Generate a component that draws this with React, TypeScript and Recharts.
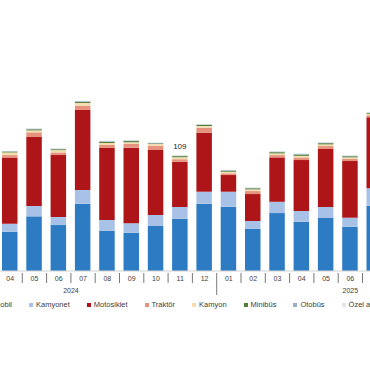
import React from "react";
import { BarChart, Bar, XAxis, YAxis, LabelList } from "recharts";

const months = ["04", "05", "06", "07", "08", "09", "10", "11", "12", "01", "02", "03", "04", "05", "06", "07"];
const years = ["2024", "2024", "2024", "2024", "2024", "2024", "2024", "2024", "2024", "2025", "2025", "2025", "2025", "2025", "2025", "2025"];
const yearGroups = [
  { year: "2024", first: 1, last: 12 },
  { year: "2025", first: 1, last: 11 },
];

const otomobil = [37.0, 51.5, 43.3, 63.4, 38.0, 36.1, 42.4, 49.3, 63.4, 60.6, 39.6, 54.6, 46.4, 49.9, 41.7, 61.5];
const kamyonet = [7.5, 9.7, 7.5, 12.9, 10.1, 8.9, 10.4, 11.0, 11.3, 14.1, 7.5, 10.6, 10.1, 10.4, 8.5, 16.4];
const motosiklet = [62.5, 65.0, 58.4, 75.4, 67.8, 71.2, 61.2, 42.7, 55.6, 15.7, 25.4, 41.8, 48.0, 54.6, 53.4, 66.9];
const traktor = [2.2, 4.4, 2.5, 4.1, 2.8, 3.5, 4.1, 2.3, 4.7, 1.6, 2.8, 2.2, 2.5, 2.8, 2.2, 1.9];
const kamyon = [2.5, 1.9, 2.2, 2.5, 1.9, 1.6, 1.6, 1.9, 1.6, 1.5, 1.6, 1.6, 1.5, 1.6, 1.3, 1.5];
const minibus = [0.8, 1.0, 0.8, 1.1, 1.1, 1.1, 0.6, 1.0, 1.0, 1.0, 1.0, 1.1, 1.2, 1.1, 1.0, 0.7];
const otobus = [0.4, 0.5, 0.5, 0.6, 0.6, 0.6, 0.4, 0.5, 0.5, 0.5, 0.5, 0.6, 0.6, 0.6, 0.5, 0.4];
const ozel = [0.3, 0.4, 0.3, 0.5, 0.5, 0.5, 0.2, 0.3, 0.4, 0.4, 0.4, 0.5, 0.5, 0.5, 0.4, 0.2];
const totalLabels: (string | null)[] = [null, null, null, null, null, null, null, "109", null, null, null, null, null, null, null, null];

const series = [
  { key: "otomobil", name: "Otomobil", color: "#2D7CC3", values: otomobil },
  { key: "kamyonet", name: "Kamyonet", color: "#A8C2E7", values: kamyonet },
  { key: "motosiklet", name: "Motosiklet", color: "#AE1519", values: motosiklet },
  { key: "traktor", name: "Traktör", color: "#E5937C", values: traktor },
  { key: "kamyon", name: "Kamyon", color: "#F3DDB0", values: kamyon },
  { key: "minibus", name: "Minibüs", color: "#4F7F35", values: minibus },
  { key: "otobus", name: "Otobüs", color: "#9AAEC8", values: otobus },
  { key: "ozel", name: "Özel amaçlı", color: "#E2E6EC", values: ozel },
];

const data = months.map((m, i) => {
  const row: Record<string, any> = { month: m, year: years[i], label: totalLabels[i] };
  series.forEach((s) => {
    row[s.key] = s.values[i];
  });
  return row;
});

const PLOT_WIDTH = 388.8;
const FONT = "'Liberation Sans', Arial, sans-serif";

function MonthTick(props: any) {
  const { x, y, payload } = props;
  const i: number = payload.index;
  const band = PLOT_WIDTH / months.length;
  const sepX = x - band / 2;
  const yearStart = i > 0 && years[i] !== years[i - 1];
  const firstOfYearInData = i === 0 || years[i] !== years[i - 1];
  let yearLabel = null;
  if (firstOfYearInData) {
    const g = yearGroups.find((gg) => gg.year === years[i]);
    if (g) {
      const monthNum = parseInt(months[i], 10);
      const cx = x + ((g.first + g.last) / 2 - monthNum) * band;
      yearLabel = (
        <text x={cx} y={y + 22} textAnchor="middle" fontSize={7} fill="#404040" fontFamily={FONT}>
          {g.year}
        </text>
      );
    }
  }
  return (
    <g>
      <line x1={sepX} x2={sepX} y1={y + 2} y2={yearStart ? y + 24 : y + 12} stroke="#555" strokeWidth={0.8} />
      <text x={x} y={y + 10} textAnchor="middle" fontSize={7} fill="#404040" fontFamily={FONT}>
        {payload.value}
      </text>
      {yearLabel}
    </g>
  );
}

function TotalLabel(props: any) {
  const { x, y, width, value } = props;
  if (value === null || value === undefined) return null;
  return (
    <text x={x + width / 2} y={y - 6} textAnchor="middle" fontSize={8} fill="#222" fontFamily={FONT}>
      {value}
    </text>
  );
}

export default function App() {
  return (
    <div style={{ position: "absolute", left: 0, top: 0, width: 370, height: 380, overflow: "hidden", background: "#fff" }}>
      <div style={{ position: "absolute", left: -10, top: 0 }}>
        <BarChart
          width={396.8}
          height={380}
          data={data}
          margin={{ top: 58.7, right: 0, left: 8, bottom: 79 }}
          barSize={15.5}
        >
          <XAxis
            dataKey="month"
            height={30}
            axisLine={{ stroke: "#d0d0d0" }}
            tickLine={false}
            tickSize={0}
            tickMargin={0}
            interval={0}
            tick={(p: any) => <MonthTick {...p} />}
          />
          <YAxis hide domain={[0, 200]} />
          {series.map((s, idx) => (
            <Bar key={s.key} dataKey={s.key} name={s.name} stackId="a" fill={s.color} isAnimationActive={false}>
              {idx === series.length - 1 ? <LabelList dataKey="label" content={(p: any) => <TotalLabel {...p} />} /> : null}
            </Bar>
          ))}
        </BarChart>
      </div>
      <div
        style={{
          position: "absolute",
          left: -25,
          top: 300,
          display: "flex",
          gap: 17,
          whiteSpace: "nowrap",
          fontSize: 7.5,
          lineHeight: "10px",
          fontFamily: FONT,
          color: "#404040",
        }}
      >
        {series.map((s) => (
          <div key={s.key} style={{ display: "flex", alignItems: "center" }}>
            <span style={{ display: "inline-block", width: 4, height: 4, background: s.color, marginRight: 3 }} />
            <span>{s.name}</span>
          </div>
        ))}
      </div>
    </div>
  );
}
